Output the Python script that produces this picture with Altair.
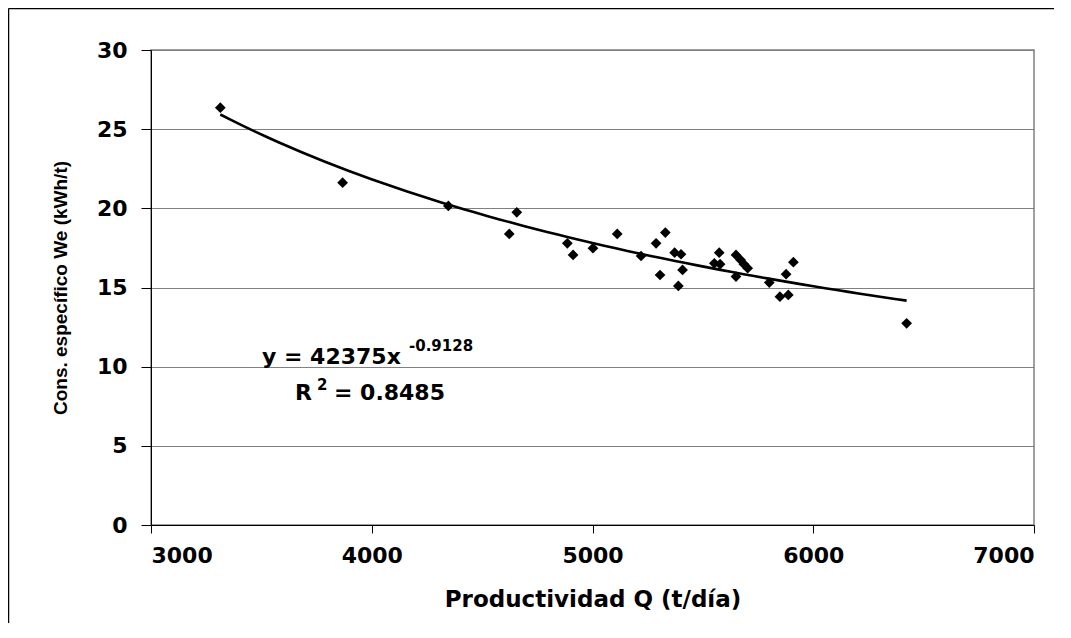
import altair as alt
import pandas as pd
import numpy as np

# Data
q = [3314, 3868, 4347, 4623, 4657, 4886, 4912, 5002, 5112, 5220, 5288, 5306, 5330,
     5372, 5389, 5401, 5408, 5552, 5574, 5578, 5650, 5650, 5671, 5686, 5703, 5801,
     5849, 5877, 5887, 5910, 6423]
we = [26.36, 21.62, 20.15, 18.38, 19.75, 17.79, 17.06, 17.48, 18.38, 16.99, 17.79,
      15.79, 18.47, 17.2, 15.1, 17.1, 16.11, 16.53, 17.2, 16.47, 17.06, 15.69, 16.74,
      16.47, 16.22, 15.31, 14.42, 15.84, 14.53, 16.6, 12.74]

# Power trendline shown in the chart: y = 42375 x^-0.9128
coef_a = 42375
coef_b = -0.9128
x_ticks = [3000, 4000, 5000, 6000, 7000]
y_ticks = [0, 5, 10, 15, 20, 25, 30]

pts = pd.DataFrame({"Q": q, "We": we})
xs = np.linspace(min(q), max(q), 60)
trend = pd.DataFrame({"Q": xs, "We": coef_a * xs ** coef_b})

FONT = "DejaVu Sans"
W, H = 883, 475
PAD = {"left": 143, "top": 42, "right": 20, "bottom": 98}

xscale = alt.Scale(domain=[3000, 7000], nice=False, zero=False)
yscale = alt.Scale(domain=[0, 30], nice=False)

xenc = alt.X("Q:Q", scale=xscale,
             axis=alt.Axis(values=x_ticks, title="Productividad Q (t/día)", grid=False,
                           domainColor="black", tickColor="black", tickSize=8,
                           labelPadding=12, labelFont=FONT, labelFontSize=22,
                           labelFontWeight="bold", labelColor="black",
                           titleFont=FONT, titleFontSize=23, titleFontWeight="bold",
                           titleColor="black", titlePadding=22, format="d"))
yenc = alt.Y("We:Q", scale=yscale,
             axis=alt.Axis(values=y_ticks, title="Cons. específico We (kWh/t)", grid=True,
                           gridColor="#808080", gridWidth=1.2,
                           domainColor="black", tickColor="black", tickSize=10,
                           labelPadding=14, labelFont=FONT, labelFontSize=22,
                           labelFontWeight="bold", labelColor="black",
                           titleFont="Liberation Sans", titleFontSize=19,
                           titleFontWeight="bold", titleColor="black", titlePadding=26))

one = pd.DataFrame({"a": [0]})
frame_top = alt.Chart(one).mark_rule(color="black", strokeWidth=1.5, clip=False).encode(
    x=alt.value(-PAD["left"] + 0.5), x2=alt.value(W + PAD["right"]), y=alt.value(-PAD["top"] + 0.5))
frame_left = alt.Chart(one).mark_rule(color="black", strokeWidth=1.5, clip=False).encode(
    x=alt.value(-PAD["left"] + 0.5), y=alt.value(-PAD["top"] + 0.5), y2=alt.value(H + PAD["bottom"]))

points = alt.Chart(pts).mark_point(shape="diamond", filled=True, color="black",
                                   size=115, opacity=1).encode(x=xenc, y=yenc)

line = alt.Chart(trend).mark_line(color="black", strokeWidth=2.6).encode(
    x=alt.X("Q:Q", scale=xscale), y=alt.Y("We:Q", scale=yscale))


def label(text, x, y, size):
    return alt.Chart(pd.DataFrame({"t": [text]})).mark_text(
        align="left", baseline="alphabetic", font=FONT, fontSize=size,
        fontWeight="bold", color="black").encode(
        text="t:N", x=alt.value(x), y=alt.value(y))


texts = (label("y = 42375x", 111, 314, 22) + label("-0.9128", 258, 301, 15)
         + label("R", 144, 350, 22) + label("2", 166, 340, 15)
         + label("= 0.8485", 183, 350, 22))

chart = alt.layer(frame_top, frame_left, line, points, texts).properties(
    width=W, height=H,
    autosize=alt.AutoSizeParams(type="none"),
    padding=PAD,
    background="white",
).configure_view(stroke="#808080", strokeWidth=1.5)

chart.save("out.html", embed_options={"renderer": "svg", "actions": False})
